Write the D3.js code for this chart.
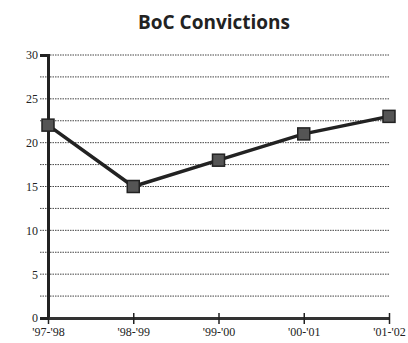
<!DOCTYPE html>
<html><head><meta charset="utf-8">
<script src="https://cdn.jsdelivr.net/npm/d3@7"></script>
<style>body{margin:0;background:#fff}svg{display:block}</style>
</head><body>
<script>
const categories = ["'97-'98", "'98-'99", "'99-'00", "'00-'01", "'01-'02"];
const values = [22, 15, 18, 21, 23];
const yTicks = [0, 5, 10, 15, 20, 25, 30];
const gridValues = [2.5, 5, 7.5, 10, 12.5, 15, 17.5, 20, 22.5, 25, 27.5, 30];
const title = "BoC Convictions";

const W = 408, H = 343;
const svg = d3.select("body").append("svg").attr("width", W).attr("height", H);
const x = d3.scalePoint().domain(categories).range([48, 389]);
const y = d3.scaleLinear().domain([0, 30]).range([318, 55]);

svg.append("text").attr("x", 214).attr("y", 29).attr("text-anchor", "middle")
  .attr("font-family", "'Open Sans', sans-serif").attr("font-weight", "bold")
  .attr("font-size", 19).attr("fill", "#222").text(title);

// grid
svg.append("g").selectAll("line").data(gridValues).join("line")
  .attr("x1", 40).attr("x2", 390)
  .attr("y1", d => y(d)).attr("y2", d => y(d))
  .attr("stroke", "#444").attr("stroke-width", 1).attr("stroke-dasharray", "1.5,1");

// y axis
const yAxis = d3.axisLeft(y).tickValues(yTicks).tickSize(8).tickFormat(d3.format("d"));
const gy = svg.append("g").attr("transform", "translate(48,0)").call(yAxis);
gy.select(".domain").attr("stroke", "#222").attr("stroke-width", 3);
gy.selectAll(".tick line").remove();
gy.selectAll("text").attr("font-family", "'Liberation Serif', serif").attr("font-size", 12).attr("fill", "#222").attr("x", -10);

// x axis
const xAxis = d3.axisBottom(x).tickSize(5).tickSizeOuter(0);
const gx = svg.append("g").attr("transform", `translate(0,${y(0)})`).call(xAxis);
gx.select(".domain").attr("stroke", "#333").attr("stroke-width", 3);
gx.selectAll(".tick line").attr("stroke", "#222").attr("stroke-width", 1.5).attr("y1", -5).attr("y2", 6);
gx.selectAll("text").attr("font-family", "'Liberation Serif', serif").attr("font-size", 12).attr("fill", "#222").attr("dy", "0.85em");

// line
const line = d3.line().x((d, i) => x(categories[i])).y(d => y(d));
svg.append("path").datum(values).attr("d", line).attr("fill", "none")
  .attr("stroke", "#222").attr("stroke-width", 3.5);

// markers
svg.append("g").selectAll("rect").data(values).join("rect")
  .attr("x", (d, i) => x(categories[i]) - 6).attr("y", d => y(d) - 6)
  .attr("width", 12).attr("height", 12)
  .attr("fill", "#555").attr("stroke", "#222").attr("stroke-width", 1.5);
</script>
</body></html>
